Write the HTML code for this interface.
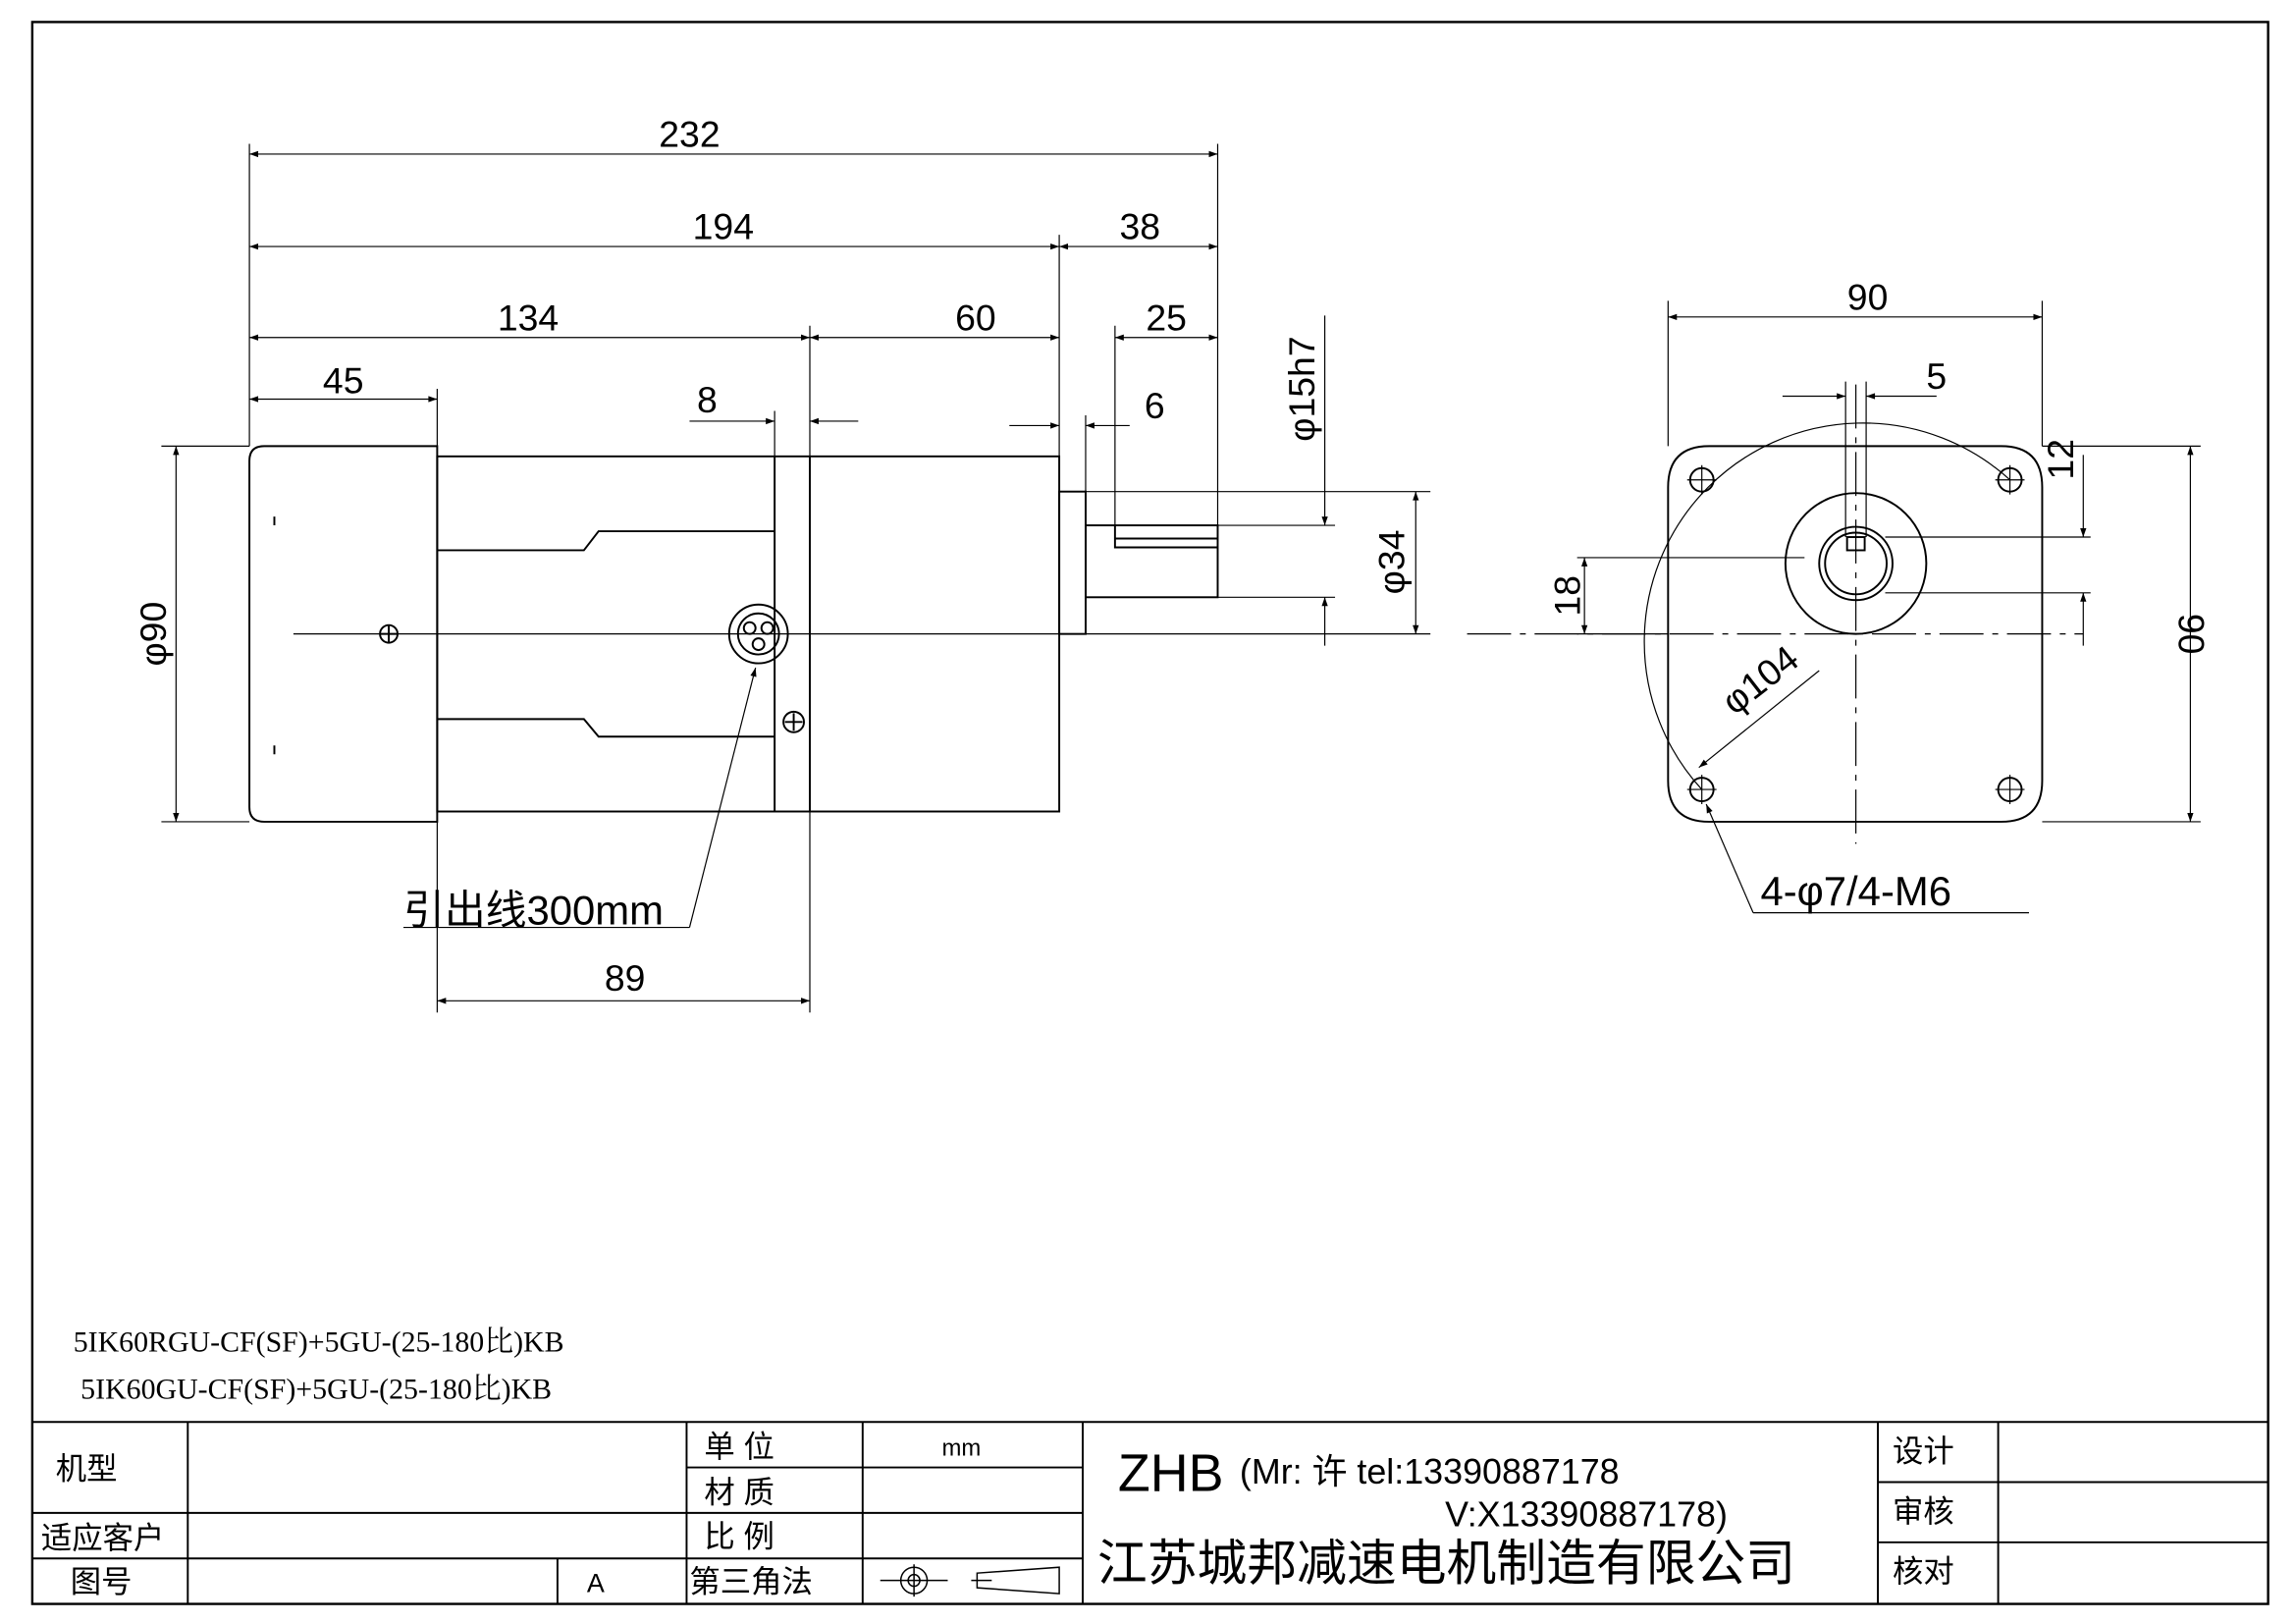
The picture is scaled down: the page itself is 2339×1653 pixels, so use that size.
<!DOCTYPE html>
<html><head><meta charset="utf-8"><style>
html,body{margin:0;padding:0;background:#fff;}
svg{display:block;}
text{font-family:"Liberation Sans","Noto Sans CJK SC",sans-serif;fill:#000;}
.s{font-family:"Liberation Serif","Noto Serif CJK SC",serif;}
</style></head><body>
<svg width="2339" height="1653" viewBox="0 0 1565 1106" preserveAspectRatio="none" xmlns="http://www.w3.org/2000/svg">
<defs>
<marker id="a" viewBox="0 0 10 10" refX="10" refY="5" markerWidth="12" markerHeight="6" markerUnits="userSpaceOnUse" orient="auto-start-reverse"><path d="M0,1.5 L10,5 L0,8.5z" fill="#000"/></marker>
</defs>
<rect x="0" y="0" width="1565" height="1106" fill="#fff"/>
<rect x="22" y="15" width="1524" height="1078" fill="none" stroke="#000" stroke-width="1.6"/>

<g stroke="#000" fill="none" stroke-width="1.3">
<path d="M180,304 H298 V560 H180 Q170,560 170,550 V314 Q170,304 180,304z"/>
<rect x="298" y="311" width="424" height="242"/>
<line x1="528" y1="311" x2="528" y2="553"/><line x1="552" y1="311" x2="552" y2="553"/>
<path d="M298,375 H398 L408,362 H528 M298,490 H398 L408,502 H528"/>
<rect x="722" y="335" width="18" height="97"/>
<rect x="740" y="358" width="90" height="49"/>
<path d="M760,358 V373 H830 M760,367 H830"/>
<circle cx="517" cy="432" r="20"/><circle cx="517" cy="432" r="14"/>
<circle cx="511" cy="428" r="4"/><circle cx="523" cy="428" r="4"/><circle cx="517" cy="439" r="4"/>
<circle cx="265" cy="432" r="6"/><path d="M259,432h12M265,426v12"/>
<circle cx="541" cy="492" r="7"/><path d="M535,492h12M541,486v12"/>
<path d="M187,352 v6 M187,508 v6" />
</g>
<g stroke="#000" stroke-width="0.8" fill="none">
<line x1="200" y1="432" x2="740" y2="432"/>
<path d="M170,98 V304 M830,98 V358 M722,160 V311 M552,222 V311 M298,265 V304 M528,280 V311 M740,283 V335 M760,222 V358"/>
<path d="M110,304 H170 M110,560 H170 M830,358 H910 M830,407 H910 M740,335 H975 M740,432 H975"/>
<path d="M298,560 V690 M552,553 V690"/>
<line x1="170" y1="105" x2="830" y2="105" marker-start="url(#a)" marker-end="url(#a)"/>
<line x1="170" y1="168" x2="722" y2="168" marker-start="url(#a)" marker-end="url(#a)"/>
<line x1="722" y1="168" x2="830" y2="168" marker-start="url(#a)" marker-end="url(#a)"/>
<line x1="170" y1="230" x2="552" y2="230" marker-start="url(#a)" marker-end="url(#a)"/>
<line x1="552" y1="230" x2="722" y2="230" marker-start="url(#a)" marker-end="url(#a)"/>
<line x1="760" y1="230" x2="830" y2="230" marker-start="url(#a)" marker-end="url(#a)"/>
<line x1="170" y1="272" x2="298" y2="272" marker-start="url(#a)" marker-end="url(#a)"/>
<line x1="470" y1="287" x2="528" y2="287" marker-end="url(#a)"/><line x1="585" y1="287" x2="552" y2="287" marker-end="url(#a)"/>
<line x1="688" y1="290" x2="722" y2="290" marker-end="url(#a)"/><line x1="770" y1="290" x2="740" y2="290" marker-end="url(#a)"/>
<line x1="120" y1="304" x2="120" y2="560" marker-start="url(#a)" marker-end="url(#a)"/>
<line x1="903" y1="215" x2="903" y2="358" marker-end="url(#a)"/><line x1="903" y1="440" x2="903" y2="407" marker-end="url(#a)"/>
<line x1="965" y1="335" x2="965" y2="432" marker-start="url(#a)" marker-end="url(#a)"/>
<line x1="298" y1="682" x2="552" y2="682" marker-start="url(#a)" marker-end="url(#a)"/>
<line x1="470" y1="632" x2="515" y2="455" marker-end="url(#a)"/>
<line x1="275" y1="632" x2="470" y2="632"/>
</g>
<g font-size="25">
<text x="470" y="100" text-anchor="middle">232</text>
<text x="493" y="163" text-anchor="middle">194</text>
<text x="777" y="163" text-anchor="middle">38</text>
<text x="360" y="225" text-anchor="middle">134</text>
<text x="665" y="225" text-anchor="middle">60</text>
<text x="795" y="225" text-anchor="middle">25</text>
<text x="234" y="268" text-anchor="middle">45</text>
<text x="482" y="281" text-anchor="middle">8</text>
<text x="787" y="285" text-anchor="middle">6</text>
<text x="426" y="675" text-anchor="middle">89</text>
<text transform="translate(113,432) rotate(-90)" text-anchor="middle">φ90</text>
<text transform="translate(896,265) rotate(-90)" text-anchor="middle">φ15h7</text>
<text transform="translate(957,383) rotate(-90)" text-anchor="middle">φ34</text>
<text x="275" y="630" font-size="28">引出线300mm</text>
</g>

<!-- front view -->
<g stroke="#000" fill="none" stroke-width="1.3">
<path d="M1165,304 H1364 Q1392,304 1392,332 V532 Q1392,560 1364,560 H1165 Q1137,560 1137,532 V332 Q1137,304 1165,304z"/>
<circle cx="1265" cy="384" r="48"/>
<circle cx="1265" cy="384" r="25"/><circle cx="1265" cy="384" r="21"/>
<rect x="1259" y="366" width="12" height="9"/>
<circle cx="1160" cy="327" r="8"/><circle cx="1370" cy="327" r="8"/><circle cx="1160" cy="538" r="8"/><circle cx="1370" cy="538" r="8"/>
</g>
<g stroke="#000" stroke-width="0.8" fill="none">
<path d="M1000,432 H1420" stroke-dasharray="30,6,4,6"/>
<path d="M1265,262 V575" stroke-dasharray="30,6,4,6"/>
<path d="M1160,538 A149,149 0 0,1 1370,327" />
<path d="M1150,327h20M1160,317v20M1360,327h20M1370,317v20M1150,538h20M1160,528v20M1360,538h20M1370,528v20"/>
<path d="M1137,205 V304 M1392,205 V304 M1392,304 H1500 M1392,560 H1500 M1258,260 V366 M1272,260 V366 M1285,366 H1425 M1285,404 H1425 M1075,380 H1230 M1075,432 H1137"/>
<line x1="1137" y1="216" x2="1392" y2="216" marker-start="url(#a)" marker-end="url(#a)"/>
<line x1="1215" y1="270" x2="1258" y2="270" marker-end="url(#a)"/><line x1="1320" y1="270" x2="1272" y2="270" marker-end="url(#a)"/>
<line x1="1493" y1="304" x2="1493" y2="560" marker-start="url(#a)" marker-end="url(#a)"/>
<line x1="1420" y1="310" x2="1420" y2="366" marker-end="url(#a)"/><line x1="1420" y1="440" x2="1420" y2="404" marker-end="url(#a)"/>
<line x1="1080" y1="380" x2="1080" y2="432" marker-start="url(#a)" marker-end="url(#a)"/>
<line x1="1240" y1="457" x2="1158" y2="523" marker-end="url(#a)"/>
<line x1="1195" y1="622" x2="1163" y2="548" marker-end="url(#a)"/>
<line x1="1195" y1="622" x2="1383" y2="622"/>
</g>
<g font-size="25">
<text x="1273" y="211" text-anchor="middle">90</text>
<text x="1320" y="265" text-anchor="middle">5</text>
<text transform="translate(1485,432) rotate(90)" text-anchor="middle">90</text>
<text transform="translate(1413,313) rotate(-90)" text-anchor="middle">12</text>
<text transform="translate(1077,406) rotate(-90)" text-anchor="middle">18</text>
<text transform="translate(1205,470) rotate(-38)" text-anchor="middle">φ104</text>
<text x="1200" y="617" font-size="28">4-φ7/4-M6</text>
</g>

<text class="s" x="50" y="921" font-size="20">5IK60RGU-CF(SF)+5GU-(25-180比)KB</text>
<text class="s" x="55" y="953" font-size="20">5IK60GU-CF(SF)+5GU-(25-180比)KB</text>

<g stroke="#000" stroke-width="1.3" fill="none">
<line x1="22" y1="969" x2="1546" y2="969"/>
<path d="M128,969V1093 M468,969V1093 M588,969V1093 M738,969V1093 M1280,969V1093 M1362,969V1093 M380,1062V1093"/>
<path d="M22,1031H468 M22,1062H468 M468,1000H738 M468,1031H738 M468,1062H738 M1280,1010H1546 M1280,1051H1546"/>
</g>
<g font-size="21">
<text x="38" y="1008">机型</text>
<text x="28" y="1055">适应客户</text>
<text x="48" y="1085">图号</text>
<text x="400" y="1085" font-size="18">A</text>
<text x="480" y="993">单  位</text>
<text x="480" y="1024">材  质</text>
<text x="480" y="1054">比  例</text>
<text x="470" y="1085">第三角法</text>
<text x="642" y="992" font-size="16">mm</text>
<text x="1290" y="996">设计</text>
<text x="1290" y="1037">审核</text>
<text x="1290" y="1078">核对</text>
<text x="762" y="1016" font-size="36">ZHB</text>
<text x="845" y="1011" font-size="24" font-family="Liberation Mono">(Mr: 许 tel:13390887178</text>
<text x="985" y="1040" font-size="24" font-family="Liberation Mono">V:X13390887178)</text>
<text x="748" y="1077" font-size="34">江苏城邦减速电机制造有限公司</text>
</g>
<g stroke="#000" stroke-width="1" fill="none">
<circle cx="623" cy="1077" r="9"/><circle cx="623" cy="1077" r="4"/>
<path d="M600,1077H646 M623,1066V1088 M662,1077H676 M666,1072 L722,1068 V1086 L666,1082z"/>
</g>
</svg>
</body></html>
